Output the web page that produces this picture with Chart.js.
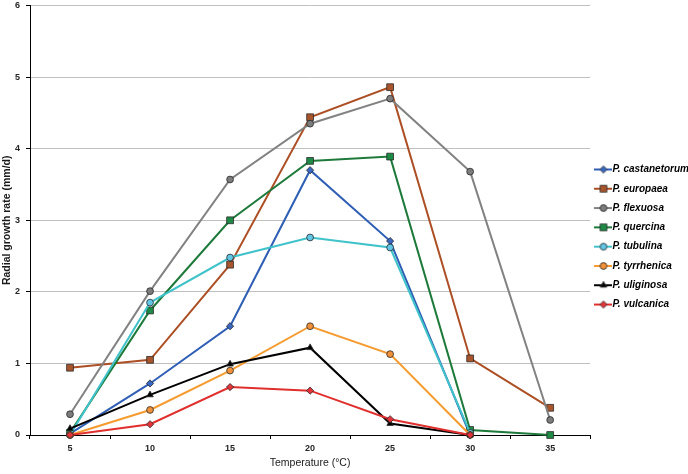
<!DOCTYPE html>
<html>
<head>
<meta charset="utf-8">
<script src="https://cdn.jsdelivr.net/npm/chart.js@4/dist/chart.umd.min.js"></script>
<style>
 html,body{margin:0;padding:0;background:#fff;}
 #wrap{width:688px;height:474px;}
</style>
</head>
<body>
<div id="wrap"><canvas id="growthChart" width="688" height="474"></canvas></div>
<script>

// temperatures (°C)
const temps = ["5","10","15","20","25","30","35"];

// radial growth rate (mm/d)
const castanetorum = [0.02, 0.72, 1.52, 3.70, 2.71, 0.00, null];
const europaea     = [0.94, 1.05, 2.38, 4.44, 4.86, 1.07, 0.38];
const flexuosa     = [0.29, 2.01, 3.57, 4.35, 4.70, 3.68, 0.21];
const quercina     = [0.03, 1.74, 3.00, 3.83, 3.89, 0.07, 0.00];
const tubulina     = [0.00, 1.85, 2.48, 2.76, 2.62, 0.03, null];
const tyrrhenica   = [0.00, 0.35, 0.90, 1.52, 1.13, 0.00, null];
const uliginosa    = [0.09, 0.56, 0.99, 1.22, 0.16, 0.00, null];
const vulcanica    = [0.00, 0.15, 0.67, 0.62, 0.22, 0.00, null];

const yTicks = [0,1,2,3,4,5,6];

const FONT = "'Liberation Sans', Arial, sans-serif";

function series(label, data, line, fill, shape, r){
 return {
  label: label,
  data: data,
  borderColor: line,
  backgroundColor: fill,
  borderWidth: 2,
  tension: 0,
  pointStyle: shape,
  pointRadius: r,
  pointBackgroundColor: fill,
  pointBorderColor: "#2a2a2a",
  pointBorderWidth: 0.8,
  clip: false
 };
}

let datasets = [
 series("P. castanetorum", castanetorum, "#2f5fb5", "#3767c0", "rectRot", 3.6),
 series("P. europaea", europaea, "#ad4f25", "#a8552c", "rect", 4.8),
 series("P. flexuosa", flexuosa, "#828282", "#7c7c7c", "circle", 3.4),
 series("P. quercina", quercina, "#1e7a3b", "#1d8a45", "rect", 4.8),
 series("P. tubulina", tubulina, "#3fc2c9", "#62c6e6", "circle", 3.4),
 series("P. tyrrhenica", tyrrhenica, "#f59b2f", "#f0913a", "circle", 3.4),
 series("P. uliginosa", uliginosa, "#000000", "#000000", "triangle", 3.8),
 series("P. vulcanica", vulcanica, "#e0302e", "#e2343a", "rectRot", 3.6)
];
// later series sit on top, as in the original
datasets.forEach((d,i)=>{ d.order = datasets.length - i; });

// little line+marker icon for the legend
function makeIcon(ds){
 let c = document.createElement("canvas");
 c.width = 18; c.height = 10;
 let ctx = c.getContext("2d");
 ctx.strokeStyle = ds.borderColor;
 ctx.lineWidth = 2;
 ctx.beginPath(); ctx.moveTo(0,5); ctx.lineTo(18,5); ctx.stroke();
 ctx.fillStyle = ds.pointBackgroundColor;
 ctx.strokeStyle = "#2a2a2a";
 ctx.lineWidth = 0.8;
 Chart.helpers.drawPoint(ctx, {pointStyle: ds.pointStyle, radius: ds.pointRadius, rotation: 0, borderWidth: 0.8}, 9, 5);
 return c;
}

new Chart(document.getElementById("growthChart"), {
 type: "line",
 data: { labels: temps, datasets: datasets },
 options: {
  responsive: false,
  devicePixelRatio: 1,
  animation: false,
  layout: { padding: { top: 0, right: -11, left: 0, bottom: 0 } },
  plugins: {
   tooltip: { enabled: false },
   legend: {
    position: "right",
    align: "center",
    labels: {
     usePointStyle: true,
     pointStyleWidth: 8,
     padding: 9.3,
     color: "#1a1a1a",
     font: { family: FONT, size: 10, weight: "bold", style: "italic" },
     generateLabels: chart => chart.data.datasets.map((ds,i)=>({
      text: ds.label,
      fillStyle: ds.borderColor,
      strokeStyle: ds.borderColor,
      lineWidth: 0,
      pointStyle: makeIcon(ds),
      hidden: false,
      datasetIndex: i
     }))
    }
   }
  },
  scales: {
   x: {
    type: "category",
    offset: true,
    afterFit: s => { s.height = 39; },
    grid: { display: true, drawOnChartArea: false, drawTicks: true, tickLength: 4, offset: true, color: "#000", tickColor: "#000" },
    border: { display: true, color: "#000", width: 1 },
    ticks: { color: "#262626", padding: 4, font: { family: FONT, size: 9, weight: "bold" } },
    title: {
     display: true,
     text: "Temperature (°C)",
     color: "#1a1a1a",
     font: { family: FONT, size: 10.5 },
     padding: { top: 0, bottom: 5 }
    }
   },
   y: {
    min: yTicks[0],
    max: yTicks[yTicks.length-1],
    afterFit: s => { s.width = 30; s.paddingTop = 4; s.paddingBottom = 0; },
    afterBuildTicks: s => { s.ticks = yTicks.map(v=>({value:v})); },
    grid: { color: "#c0c0c0", lineWidth: 1, drawTicks: true, tickLength: 4, tickColor: "#000" },
    border: { display: true, color: "#000", width: 1 },
    ticks: { color: "#262626", padding: 6, font: { family: FONT, size: 9, weight: "bold" } },
    title: {
     display: true,
     text: "Radial growth rate (mm/d)",
     color: "#1a1a1a",
     font: { family: FONT, size: 10.5, weight: "bold" },
     padding: { top: 1, bottom: 0 }
    }
   }
  }
 }
});
</script>
</body>
</html>
